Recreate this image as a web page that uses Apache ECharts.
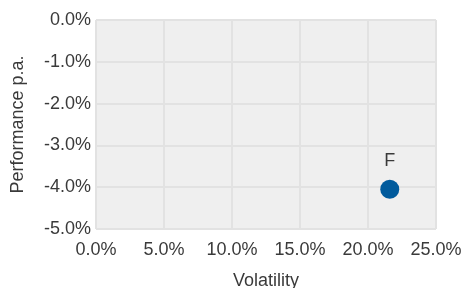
<!DOCTYPE html>
<html><head><meta charset="utf-8">
<script src="https://cdn.jsdelivr.net/npm/echarts@6/dist/echarts.min.js"></script>
<style>html,body{margin:0;padding:0;background:#fff}#c{width:462px;height:288px}</style>
</head><body><div id="c"></div>
<script>
const names = ['F'];
const volatility = [21.6];
const performance = [-4.05];
const xTicks = [0, 5, 10, 15, 20, 25];
const yTicks = [0, -1, -2, -3, -4, -5];

const chart = echarts.init(document.getElementById('c'), null, {renderer: 'canvas'});
const font = 'Arial, "Liberation Sans", sans-serif';
const txt = '#3a3a3a';
chart.setOption({
  animation: false,
  grid: {left: 96, right: 26, top: 20, bottom: 59, containLabel: false, outerBoundsMode: 'none', show: true, backgroundColor: '#efefef', borderWidth: 0},
  xAxis: {
    type: 'value', min: 0, max: 25, interval: 5,
    name: 'Volatility', nameLocation: 'middle', nameGap: 43,
    nameTextStyle: {fontFamily: font, fontSize: 18, color: txt},
    axisLine: {show: false}, axisTick: {show: false},
    axisLabel: {fontFamily: font, fontSize: 18, color: txt, margin: 12, formatter: v => v.toFixed(1) + '%'},
    splitLine: {show: true, lineStyle: {color: '#e2e2e2', width: 2}}
  },
  yAxis: {
    type: 'value', min: -5, max: 0, interval: 1,
    name: 'Performance p.a.', nameLocation: 'middle', nameGap: 69,
    nameTextStyle: {fontFamily: font, fontSize: 18, color: txt},
    axisLine: {show: false}, axisTick: {show: false},
    axisLabel: {fontFamily: font, fontSize: 18, color: txt, margin: 5, formatter: v => v.toFixed(1) + '%'},
    splitLine: {show: true, lineStyle: {color: '#e2e2e2', width: 2}}
  },
  series: [{
    type: 'scatter',
    symbolSize: 19,
    itemStyle: {color: '#005a9c', opacity: 1},
    label: {show: true, position: 'top', distance: 10, formatter: p => p.data[2], fontFamily: font, fontSize: 18, color: txt},
    data: names.map((n, i) => [volatility[i], performance[i], n])
  }]
});
</script></body></html>
